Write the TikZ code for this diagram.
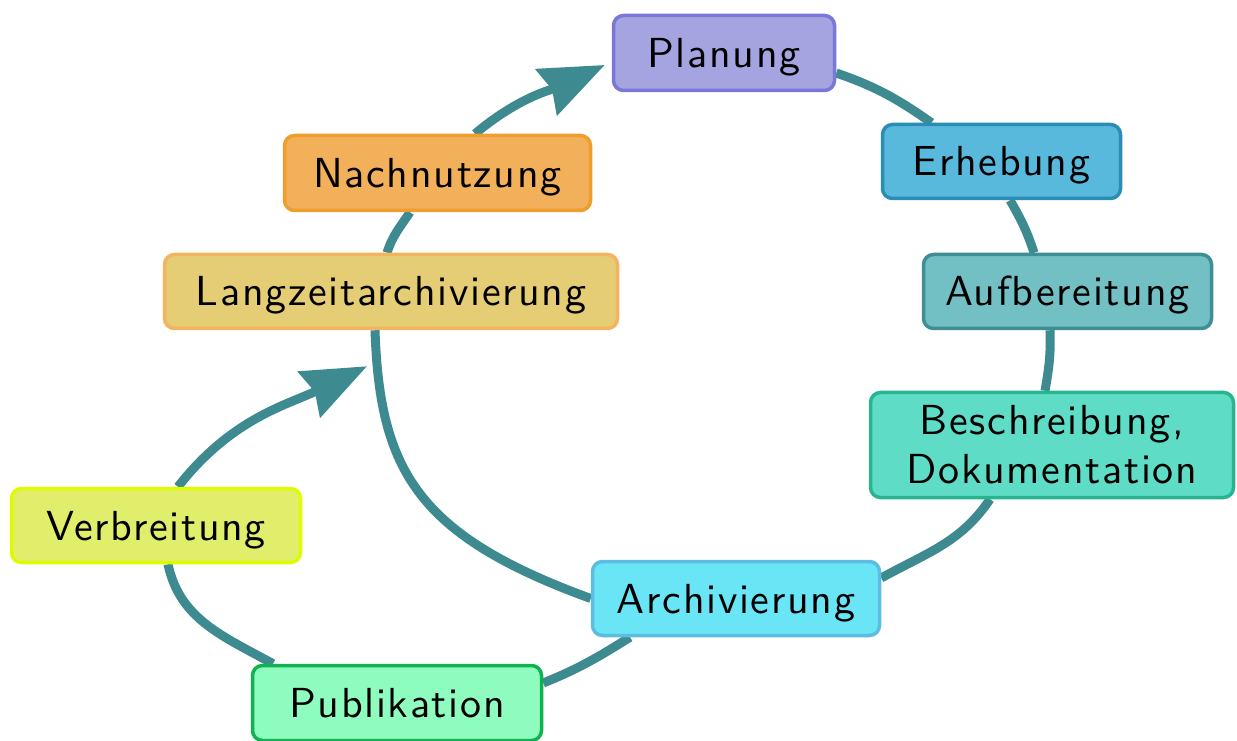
\documentclass[tikz,border=0pt]{standalone}
\usepackage{fontspec}
\newfontfamily\stagefont{lmsans10-regular.otf}[LetterSpace=4.0]
\usetikzlibrary{arrows.meta,backgrounds}

% stage colours: fill / outline
\definecolor{flow}{HTML}{3D8B91}
\definecolor{planfill}{HTML}{A4A4E0}\definecolor{planline}{HTML}{7A78D6}
\definecolor{erhfill}{HTML}{58B9DD}\definecolor{erhline}{HTML}{2A8DB3}
\definecolor{auffill}{HTML}{72BFC4}\definecolor{aufline}{HTML}{3F8E95}
\definecolor{beschfill}{HTML}{5EDCC5}\definecolor{beschline}{HTML}{27B590}
\definecolor{archfill}{HTML}{6AE5F5}\definecolor{archline}{HTML}{5BBDE0}
\definecolor{pubfill}{HTML}{8EFCBF}\definecolor{publine}{HTML}{0FB24F}
\definecolor{verbfill}{HTML}{E1EE6B}\definecolor{verbline}{HTML}{DDFC00}
\definecolor{langfill}{HTML}{E5CD75}\definecolor{langline}{HTML}{F2B45E}
\definecolor{nachfill}{HTML}{F2B05A}\definecolor{nachline}{HTML}{ED9E2C}

\tikzset{
  stage/.style={draw, line width=3.5pt, rounded corners=10pt, inner sep=0pt,
    font=\stagefont\fontsize{42}{49}\selectfont,
    text=black, align=center},
  oneline/.style={stage, text height=37pt, text depth=8pt},
  flowline/.style={draw=flow, line width=9pt},
  flowtip/.style={-{Stealth[length=64pt,width=50pt,inset=6pt]}}
}

\begin{document}
\begin{tikzpicture}[x=1pt,y=1pt]
\useasboundingbox (0,0) rectangle (1237,740);

% the stages of the cycle
\node[oneline, fill=planfill, draw=planline, minimum width=221pt, minimum height=75pt] (plan) at (724,687) {Planung};
\node[oneline, fill=erhfill, draw=erhline, minimum width=238pt, minimum height=74pt] (erh) at (1001.5,578.5) {Erhebung};
\node[oneline, fill=auffill, draw=aufline, minimum width=288pt, minimum height=74pt] (auf) at (1067.5,448.5) {Aufbereitung};
\node[stage, fill=beschfill, draw=beschline, minimum width=363pt, minimum height=105pt] (besch) at (1052,295) {Beschreibung,\\Dokumentation};
\node[oneline, fill=archfill, draw=archline, minimum width=287pt, minimum height=74pt] (arch) at (736,141.5) {Archivierung};
\node[oneline, fill=pubfill, draw=publine, minimum width=289pt, minimum height=75pt] (pub) at (397,37) {Publikation};
\node[oneline, fill=verbfill, draw=verbline, minimum width=289pt, minimum height=74pt] (verb) at (156,214.5) {Verbreitung};
\node[oneline, fill=langfill, draw=langline, minimum width=453pt, minimum height=74pt] (lang) at (391,448.5) {Langzeitarchivierung};
\node[oneline, fill=nachfill, draw=nachline, minimum width=306pt, minimum height=75pt] (nach) at (437.5,567) {Nachnutzung};

% connectors, kept behind the boxes
\begin{pgfonlayer}{background}
% main cycle
\draw[flowline] ([yshift=-20pt]plan.east) to[out=-19,in=145] ([xshift=-70pt]erh.north);
\draw[flowline] ([xshift=8.5pt]erh.south) to[out=-60,in=108] ([xshift=-33.5pt]auf.north);
\draw[flowline] ([xshift=-17.5pt]auf.south) to[out=-88,in=80] ([xshift=-7pt]besch.north);
\draw[flowline] ([xshift=-62pt]besch.south) to[out=-124,in=29] ([yshift=20.5pt]arch.east);
\draw[flowline] (arch.west) .. controls +(160:185pt) and +(-88:140pt) .. ([xshift=-16pt]lang.south);
\draw[flowline] ([xshift=-4pt]lang.north) to[out=72,in=-124] ([xshift=-27.5pt]nach.south);
\draw[flowline,flowtip] ([xshift=37.5pt]nach.north) to[out=40,in=-155] ([xshift=-7pt,yshift=-12pt]plan.west);
% side loop
\draw[flowline] ([xshift=-106pt]arch.south) to[out=-148,in=22] ([yshift=20pt]pub.east);
\draw[flowline] ([xshift=-124pt]pub.north) to[out=151,in=-78] ([xshift=12pt]verb.south);
\draw[flowline,flowtip] ([xshift=22pt]verb.north) to[out=52,in=-154] ([xshift=-24pt,yshift=-36pt]lang.south);
\end{pgfonlayer}
\end{tikzpicture}
\end{document}
